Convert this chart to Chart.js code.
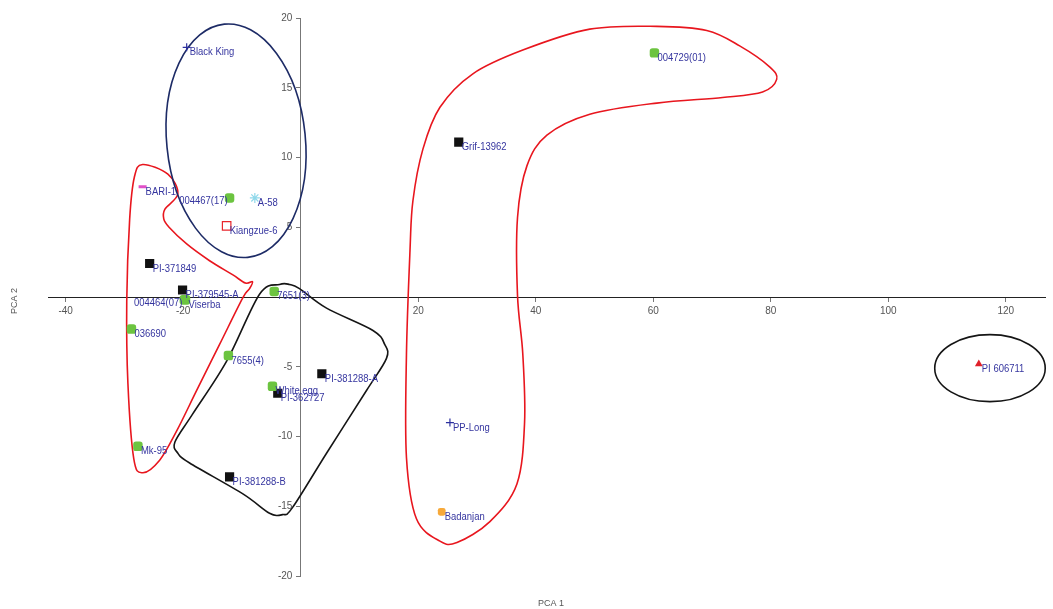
<!DOCTYPE html>
<html>
<head>
<meta charset="utf-8">
<title>PCA plot</title>
<script src="https://cdn.jsdelivr.net/npm/chart.js@4"></script>
<style>
    html, body { margin: 0; padding: 0; background: #fff; }
    #wrap { width: 1053px; height: 609px; position: relative; }
</style>
</head>
<body>
<div id="wrap"><canvas id="pcaChart"></canvas></div>
<script>
// accessions with their scores on PCA 1 / PCA 2
var names = ['Black King', 'BARI-1', '004467(17)', 'A-58', 'Kiangzue-6', 'PI-371849', 'PI-379545-A',
    '004464(07)', 'Viserba', '7651(3)', '036690', '7655(4)', 'White egg', 'PI-362727', 'PI-381288-A',
    'Mk-95', 'PI-381288-B', '004729(01)', 'Grif-13962', 'PP-Long', 'Badanjan', 'PI 606711'];
var pc1 = [-19.4, -26.9, -12.1, -7.8, -12.6, -25.7, -20.1, -19.8, -19.6, -4.5, -28.8, -12.3, -4.8, -3.9,
    3.6, -27.7, -12.1, 60.2, 26.9, 25.4, 24.0, 115.4];
var pc2 = [17.9, 7.9, 7.1, 7.1, 5.1, 2.4, 0.5, -0.2, -0.2, 0.4, -2.3, -4.2, -6.4, -6.9,
    -5.5, -10.7, -12.9, 17.5, 11.1, -9.0, -15.4, -4.8];
var kinds = ['plus', 'pink', 'green', 'cyan', 'openRed', 'black', 'black',
    'green', 'green', 'green', 'green', 'green', 'green', 'black', 'black',
    'green', 'black', 'green', 'black', 'plus', 'orange', 'triangle'];
var labelLeft = ['004467(17)', '004464(07)'];

var xTicks = [-40, -20, 0, 20, 40, 60, 80, 100, 120];
var yTicks = [-20, -15, -10, -5, 0, 5, 10, 15, 20];

// hand drawn group outlines, in PCA units
var redLeft = [[-26.9, 9.5], [-22.6, 8.8], [-20.9, 7.4], [-23.1, 6.3], [-23.3, 5.6], [-22.4, 5.0],
    [-19.4, 3.8], [-15.5, 2.6], [-11.6, 1.6], [-9.4, 1.0], [-8.2, 1.1], [-8.7, 0.6], [-9.9, -0.1],
    [-13.8, -3.4], [-17.7, -6.7], [-21.1, -9.6], [-24.0, -11.7], [-26.9, -12.6], [-28.4, -11.6],
    [-29.4, -6.2], [-29.6, -0.3], [-29.1, 5.6], [-28.3, 8.6]];
var redBoomerang = [[18.6, 3.3], [18.0, -4.1], [18.0, -11.5], [19.7, -15.9], [23.7, -17.5], [26.6, -17.6],
    [32.2, -16.1], [36.8, -13.4], [38.1, -9.0], [37.8, -4.1], [36.9, 0.1], [36.9, 5.7], [38.5, 9.4],
    [41.9, 11.6], [49.2, 13.1], [60.6, 13.9], [71.8, 14.3], [78.6, 14.7], [81.0, 15.6], [79.8, 16.5],
    [74.7, 18.0], [69.1, 19.1], [60.6, 19.4], [49.2, 19.2], [37.8, 17.7], [29.3, 16.0], [23.7, 13.6],
    [20.8, 10.6], [19.1, 6.9]];
var blackBox = [[-3.6, 0.9], [-7.0, 0.2], [-12.6, -4.6], [-18.4, -8.4], [-21.4, -10.4], [-20.9, -11.2],
    [-18.9, -11.9], [-9.9, -14.1], [-5.3, -15.5], [-3.1, -15.6], [-1.4, -15.1], [4.4, -11.2],
    [11.2, -6.7], [14.6, -4.4], [14.3, -3.4], [12.3, -2.4], [4.4, -0.8], [-0.2, 0.6], [-1.9, 0.9]];
// ellipses: centre x, centre y, half width, half height (PCA units), tilt (radians)
var blueEllipse = [-11.0, 11.2, 11.8, 8.4, -0.1];
var blackEllipse = [117.3, -5.1, 9.4, 2.4, 0];

var markers = {
    plus:     { pointStyle: 'cross', radius: 4, borderColor: '#2b2f9e', backgroundColor: '#2b2f9e', borderWidth: 1.2 },
    pink:     { pointStyle: 'line', radius: 4, borderColor: '#e050c8', backgroundColor: '#e050c8', borderWidth: 3 },
    green:    { pointStyle: 'rectRounded', radius: 5.5, borderColor: '#6cc440', backgroundColor: '#6cc440', borderWidth: 0 },
    cyan:     { pointStyle: 'star', radius: 5, borderColor: '#8fd8ea', backgroundColor: '#8fd8ea', borderWidth: 1.2 },
    openRed:  { pointStyle: 'rect', radius: 6, borderColor: '#e8262c', backgroundColor: '#ffffff', borderWidth: 1.2 },
    black:    { pointStyle: 'rect', radius: 6.5, borderColor: '#111111', backgroundColor: '#111111', borderWidth: 0 },
    orange:   { pointStyle: 'rectRounded', radius: 4.5, borderColor: '#f7a93a', backgroundColor: '#f7a93a', borderWidth: 0 },
    triangle: { pointStyle: 'triangle', radius: 4.5, borderColor: '#e0202a', backgroundColor: '#e0202a', borderWidth: 0 }
};

var datasets = Object.keys(markers).map(function(kind) {
    var pts = [];
    names.forEach(function(n, i) {
        if (kinds[i] === kind) pts.push({ x: pc1[i], y: pc2[i], name: n });
    });
    var m = markers[kind];
    return {
        label: kind,
        data: pts,
        pointStyle: m.pointStyle,
        pointRadius: m.radius,
        pointBorderColor: m.borderColor,
        pointBackgroundColor: m.backgroundColor,
        pointBorderWidth: m.borderWidth
    };
});

function smoothClosed(ctx, pts) {
    var n = pts.length;
    ctx.beginPath();
    ctx.moveTo(pts[0][0], pts[0][1]);
    for (var i = 0; i < n; i++) {
        var p0 = pts[(i - 1 + n) % n], p1 = pts[i], p2 = pts[(i + 1) % n], p3 = pts[(i + 2) % n];
        ctx.bezierCurveTo(p1[0] + (p2[0] - p0[0]) / 6, p1[1] + (p2[1] - p0[1]) / 6,
            p2[0] - (p3[0] - p1[0]) / 6, p2[1] - (p3[1] - p1[1]) / 6, p2[0], p2[1]);
    }
    ctx.closePath();
    ctx.stroke();
}

// narrow-looking text: squeeze the regular font a bit
function narrowText(ctx, text, x, y, align) {
    ctx.save();
    ctx.translate(x, y);
    ctx.scale(0.86, 1);
    ctx.textAlign = align;
    ctx.fillText(text, 0, 0);
    ctx.restore();
}

var outlinePlugin = {
    id: 'outlines',
    beforeDatasetsDraw: function(chart) {
        var ctx = chart.ctx, xs = chart.scales.x, ys = chart.scales.y;
        function px(p) { return [xs.getPixelForValue(p[0]), ys.getPixelForValue(p[1])]; }
        function ellipse(e, color) {
            var cx = xs.getPixelForValue(e[0]), cy = ys.getPixelForValue(e[1]);
            var rx = Math.abs(xs.getPixelForValue(e[0] + e[2]) - cx);
            var ry = Math.abs(ys.getPixelForValue(e[1] + e[3]) - cy);
            ctx.strokeStyle = color;
            ctx.beginPath();
            ctx.ellipse(cx, cy, rx, ry, e[4], 0, Math.PI * 2);
            ctx.stroke();
        }
        ctx.save();
        ctx.lineWidth = 1.6;
        ctx.strokeStyle = '#e8161e';
        smoothClosed(ctx, redLeft.map(px));
        smoothClosed(ctx, redBoomerang.map(px));
        ctx.strokeStyle = '#151515';
        smoothClosed(ctx, blackBox.map(px));
        ellipse(blueEllipse, '#1d2b66');
        ellipse(blackEllipse, '#151515');
        ctx.restore();
    },
    afterDatasetsDraw: function(chart) {
        var ctx = chart.ctx;
        ctx.save();
        ctx.font = "11px 'Liberation Sans', Arial, sans-serif";
        ctx.fillStyle = '#35359f';
        ctx.textBaseline = 'middle';
        chart.data.datasets.forEach(function(ds, di) {
            var meta = chart.getDatasetMeta(di);
            meta.data.forEach(function(el, i) {
                var name = ds.data[i].name;
                if (labelLeft.indexOf(name) >= 0) {
                    narrowText(ctx, name, el.x - 2, el.y + 3, 'right');
                } else {
                    narrowText(ctx, name, el.x + 3, el.y + 5, 'left');
                }
            });
        });
        // axis titles
        ctx.fillStyle = '#555';
        ctx.font = "9px 'Liberation Sans', Arial, sans-serif";
        ctx.textAlign = 'center';
        var ca = chart.chartArea;
        ctx.fillText('PCA 1', (ca.left + ca.right) / 2 + 4, chart.height - 5);
        ctx.translate(15, (ca.top + ca.bottom) / 2 + 4);
        ctx.rotate(-Math.PI / 2);
        ctx.fillText('PCA 2', 0, 0);
        ctx.restore();
    }
};

var tickFont = { family: "'Liberation Sans', Arial, sans-serif", size: 10 };

new Chart(document.getElementById('pcaChart'), {
    type: 'scatter',
    data: { datasets: datasets },
    options: {
        responsive: true,
        maintainAspectRatio: false,
        animation: false,
        layout: { padding: { left: 48, right: 0, top: 18, bottom: 33 } },
        plugins: { legend: { display: false }, tooltip: { enabled: false } },
        scales: {
            x: {
                type: 'linear',
                min: -43,
                max: 126.8,
                position: { y: 0 },
                afterBuildTicks: function(s) { s.ticks = xTicks.map(function(v) { return { value: v }; }); },
                grid: { drawOnChartArea: false, tickLength: 4, color: '#777' },
                border: { color: '#222', width: 1 },
                ticks: {
                    color: '#555',
                    font: tickFont,
                    padding: 4,
                    maxRotation: 0,
                    autoSkip: false,
                    callback: function(v) { return v === 0 ? '' : v; }
                }
            },
            y: {
                type: 'linear',
                min: -20,
                max: 20,
                position: { x: 0 },
                afterBuildTicks: function(s) { s.ticks = yTicks.map(function(v) { return { value: v }; }); },
                grid: { drawOnChartArea: false, tickLength: 4, color: '#777' },
                border: { color: '#777', width: 1 },
                ticks: {
                    color: '#555',
                    font: tickFont,
                    padding: 2,
                    autoSkip: false,
                    callback: function(v) { return v === 0 ? '' : v + '   '; }
                }
            }
        }
    },
    plugins: [outlinePlugin]
});
</script>
</body>
</html>
